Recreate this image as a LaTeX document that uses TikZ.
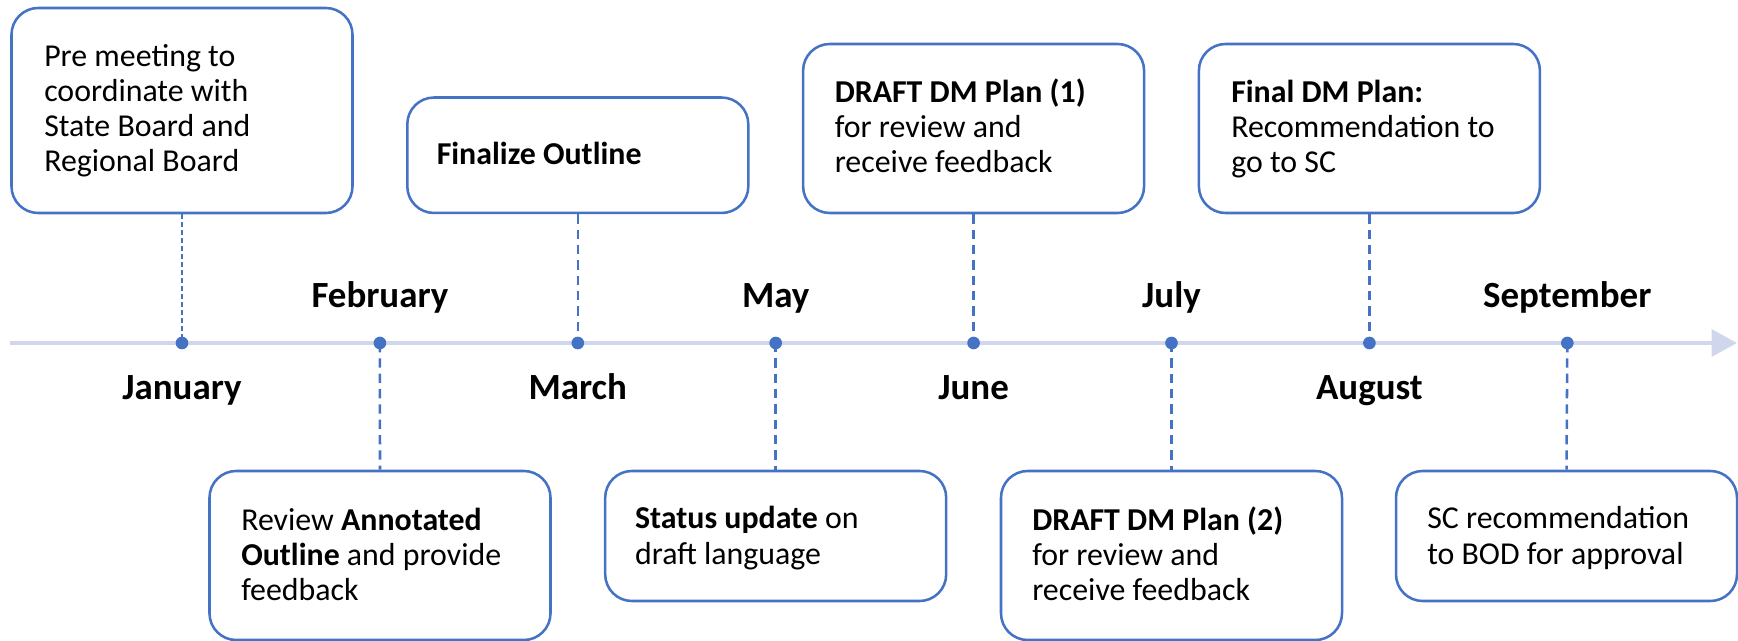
\documentclass[tikz,border=0pt]{standalone}
\usepackage{fontspec}
\setmainfont{Carlito}
\usetikzlibrary{arrows.meta}
\definecolor{accent}{HTML}{4472C4}
\definecolor{axisc}{HTML}{D0D7EC}
\begin{document}
\begin{tikzpicture}[x=0.75pt,y=-0.75pt,
  box/.style={draw=accent, line width=1.9pt, rounded corners=20pt, minimum width=255.75pt, inner sep=0pt},
  txt/.style={anchor=base west, align=left, inner sep=0pt, font=\fontsize{23.9}{26.3}\selectfont},
  month/.style={anchor=base, inner sep=0pt, font=\bfseries\fontsize{27.7}{33}\selectfont},
  dot/.style={circle, fill=accent, inner sep=0pt, minimum size=9.5pt},
  conn/.style={draw=accent, line width=1.9pt, dash pattern=on 7pt off 4.5pt},
  connthin/.style={draw=accent, line width=1.1pt, dash pattern=on 3.5pt off 2.5pt},
]
\useasboundingbox (0,0) rectangle (1738,641);

% timeline
\coordinate (ts) at (10,343);
\coordinate (te) at (1737,343);
\draw[draw=axisc, line width=3pt, -{Triangle[length=19pt,width=20pt]}] (ts) -- (te);

% boxes
\node[box, minimum height=153.75pt] (b1) at (182,110.5) {};
\node[box, minimum height=86.6pt]  (b2) at (577.8,155.25) {};
\node[box, minimum height=126.75pt] (b3) at (973.6,128.5) {};
\node[box, minimum height=126.75pt] (b4) at (1369.4,128.5) {};
\node[box, minimum height=126.75pt] (b5) at (380,555.5) {};
\node[box, minimum height=97.5pt]  (b6) at (775.7,536) {};
\node[box, minimum height=126.75pt] (b7) at (1171.5,555.5) {};
\node[box, minimum height=97.5pt]  (b8) at (1566.5,536) {};

% texts (anchored at baseline of last line)
\node[txt] (t1) at (44,171.9) {Pre meeting to\\coordinate with\\State Board and\\Regional Board};
\node[txt] (t2) at (436.5,165) {\textbf{Finalize Outline}};
\node[txt] (t3) at (834.5,172.8) {\textbf{DRAFT DM Plan (1)}\\for review and\\receive feedback};
\node[txt] (t4) at (1231,172.8) {\textbf{Final DM Plan:}\\Recommendation to\\go to SC};
\node[txt] (t5) at (241,600.8) {Review \textbf{Annotated}\\\textbf{Outline} and provide\\feedback};
\node[txt] (t6) at (634.8,564) {\textbf{Status update} on\\draft language};
\node[txt] (t7) at (1032,600.8) {\textbf{DRAFT DM Plan (2)}\\for review and\\receive feedback};
\node[txt] (t8) at (1427,564) {SC recommendation\\to BOD for approval};

% dots
\node[dot] (d1) at (182,343) {};
\node[dot] (d2) at (379.9,343) {};
\node[dot] (d3) at (577.8,343) {};
\node[dot] (d4) at (775.7,343) {};
\node[dot] (d5) at (973.6,343) {};
\node[dot] (d6) at (1171.5,343) {};
\node[dot] (d7) at (1369.4,343) {};
\node[dot] (d8) at (1567.3,343) {};

% connectors
\draw[connthin] (b1.south) -- (d1.center);
\draw[conn] (d2.center) -- (b5.north);
\draw[conn] (b2.south) -- (d3.center);
\draw[conn] (d4.center) -- (b6.north);
\draw[conn] (b3.south) -- (d5.center);
\draw[conn] (d6.center) -- (b7.north);
\draw[conn] (b4.south) -- (d7.center);
\draw[conn] (d8.center) -- (b8.north);

% months
\node[month] (m1) at (182,399) {January};
\node[month] (m2) at (379.9,308) {February};
\node[month] (m3) at (577.8,399) {March};
\node[month] (m4) at (775.7,308) {May};
\node[month] (m5) at (973.6,399) {June};
\node[month] (m6) at (1171.5,308) {July};
\node[month] (m7) at (1369.4,399) {August};
\node[month] (m8) at (1567.3,308) {September};
\end{tikzpicture}
\end{document}
